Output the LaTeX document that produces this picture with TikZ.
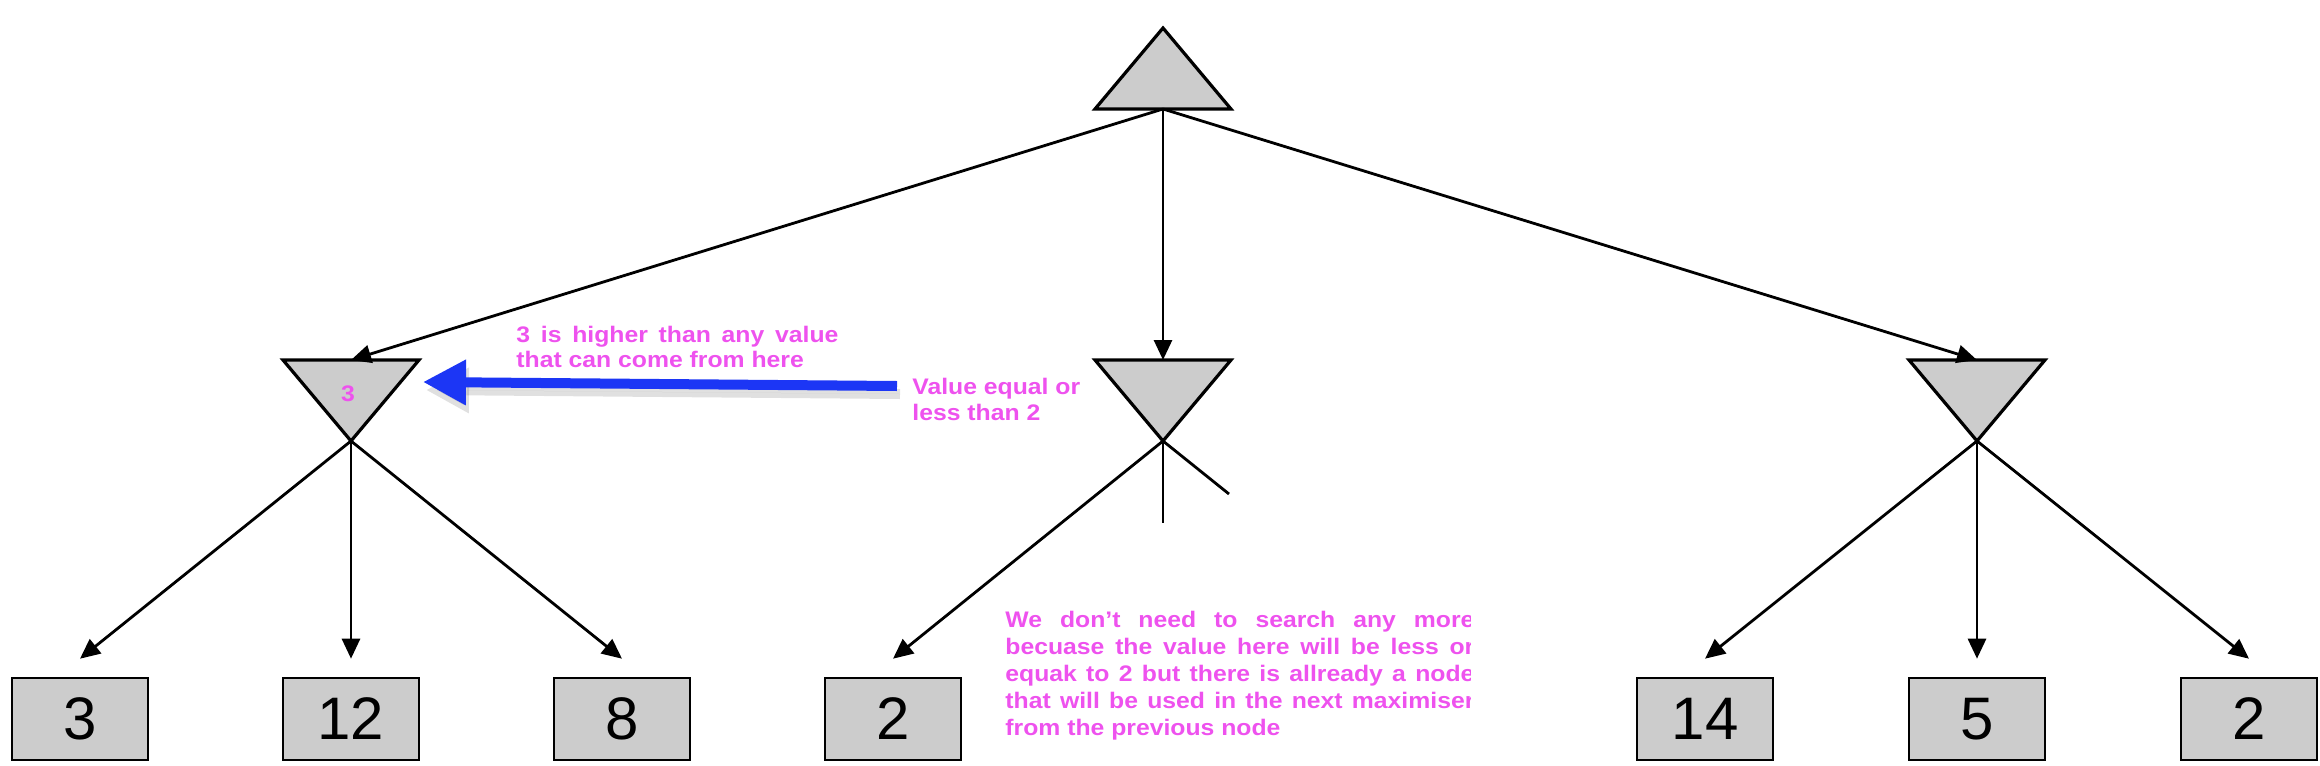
\documentclass[tikz,border=0pt]{standalone}
\usepackage{fontspec}
\setmainfont{Liberation Sans}
\newfontfamily\annotfont{Liberation Sans}[FakeStretch=1.1]
\usetikzlibrary{arrows.meta}
\definecolor{boxgray}{HTML}{CCCCCC}
\definecolor{annot}{RGB}{238,82,238}
\definecolor{bluearrow}{RGB}{28,54,245}
\begin{document}
\begin{tikzpicture}[x=0.5pt,y=-0.5pt,
  tri/.style={draw=black, fill=boxgray, line width=1.6pt, line join=miter},
  leaf/.style={draw=black, fill=boxgray, line width=1.3pt, minimum width=68pt, minimum height=41pt, inner sep=0pt, font=\fontsize{30pt}{30pt}\selectfont},
  edge/.style={line width=1.4pt, -{Triangle[length=10pt,width=9pt]}},
  stub/.style={line width=1.4pt},
  note/.style={text=annot, inner sep=0pt, anchor=base west, align=left, font=\annotfont\bfseries\fontsize{11.25pt}{13pt}\selectfont},
  bigarrow/.style={line width=5pt, -{Triangle[length=21.5pt,width=21.5pt]}},
]
\useasboundingbox (0,0) rectangle (2320,766);

% max node
\path[tri] (1095,109) -- (1163,28) -- (1231,109) -- cycle;
\coordinate (root) at (1163,109);

% min nodes
\path[tri] (283,360) -- (419,360) -- (351,441) -- cycle;
\coordinate (minLtop) at (351,360);
\coordinate (minLbot) at (351,441);
\path[tri] (1095,360) -- (1231,360) -- (1163,441) -- cycle;
\coordinate (minMtop) at (1163,360);
\coordinate (minMbot) at (1163,441);
\path[tri] (1909,360) -- (2045,360) -- (1977,441) -- cycle;
\coordinate (minRtop) at (1977,360);
\coordinate (minRbot) at (1977,441);

% leaves
\node[leaf] (l1) at (80,719) {3};
\node[leaf] (l2) at (351,719) {12};
\node[leaf] (l3) at (622,719) {8};
\node[leaf] (l4) at (893,719) {2};
\node[leaf] (l7) at (1705,719) {14};
\node[leaf] (l8) at (1977,719) {5};
\node[leaf] (l9) at (2249,719) {2};

% edges
\draw[edge] (root) -- (minLtop);
\draw[edge] (root) -- (minMtop);
\draw[edge] (root) -- (minRtop);

\draw[edge] (minLbot) -- ([yshift=9pt]l1.north);
\draw[edge] (minLbot) -- ([yshift=9pt]l2.north);
\draw[edge] (minLbot) -- ([yshift=9pt]l3.north);

\draw[edge] (minMbot) -- ([yshift=9pt]l4.north);
\coordinate (stubA) at (1163,523);
\coordinate (stubB) at (1229,494);
\draw[stub] (minMbot) -- (stubA);
\draw[stub] (minMbot) -- (stubB);

\draw[edge] (minRbot) -- ([yshift=9pt]l7.north);
\draw[edge] (minRbot) -- ([yshift=9pt]l8.north);
\draw[edge] (minRbot) -- ([yshift=9pt]l9.north);

% blue arrow with soft shadow
\coordinate (btail) at (897,386);
\coordinate (bhead) at (423,382);
\draw[bigarrow, draw=black, fill=black, opacity=0.12] ([shift={(3,8)}]btail) -- ([shift={(3,8)}]bhead);
\draw[bigarrow, draw=bluearrow, fill=bluearrow] (btail) -- (bhead);

% annotations
\node[note, anchor=base] (t3) at (348,401) {3};
\node[note, font=\annotfont\bfseries\fontsize{11.25pt}{12.5pt}\selectfont] (n1) at (516,367) {\makebox[161pt][s]{3 is higher than any value}\\that can come from here};
\node[note] (n2) at (912,420) {Value equal or\\less than 2};
\begin{scope}
\clip (990,590) rectangle (1470,750);
\node[note, font=\annotfont\bfseries\fontsize{11.25pt}{13.5pt}\selectfont] (n3) at (1005,735) {\makebox[234.5pt][s]{We don’t need to search any more}\\\makebox[234.5pt][s]{becuase the value here will be less or}\\\makebox[234.5pt][s]{equak to 2 but there is allready a node}\\\makebox[234.5pt][s]{that will be used in the next maximiser}\\from the previous node};
\end{scope}
\end{tikzpicture}
\end{document}
